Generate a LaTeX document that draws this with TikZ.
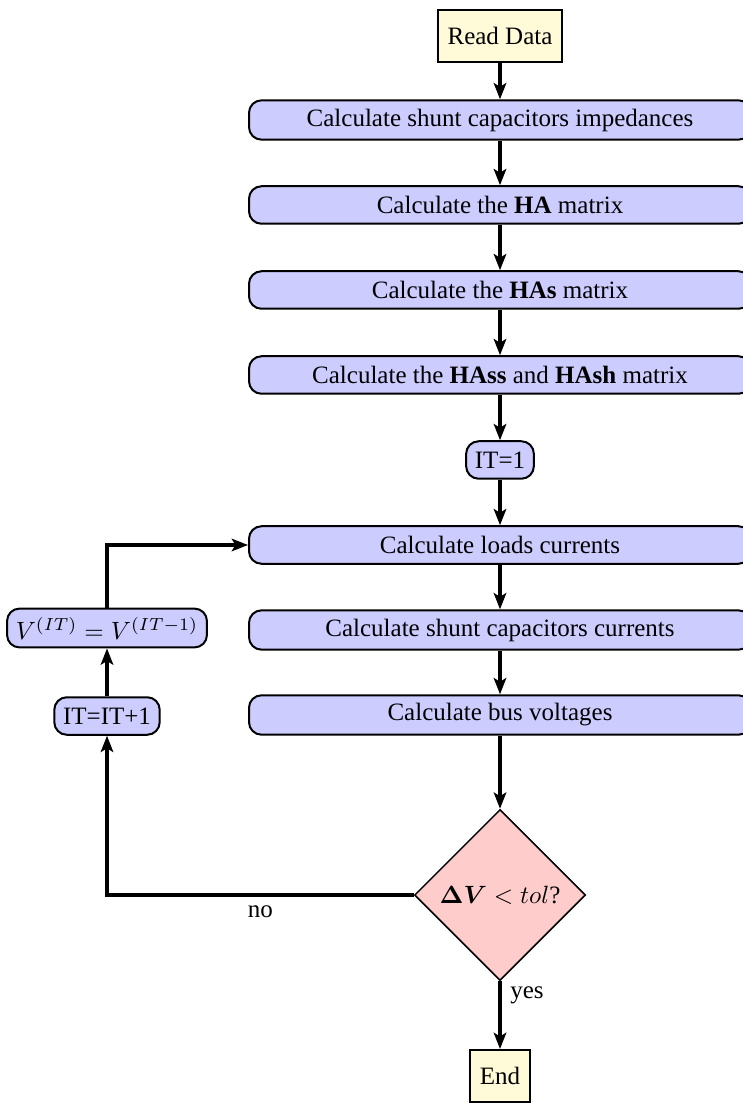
\documentclass[tikz,border=0pt]{standalone}
\usepackage{amsmath}
\usepackage{fontspec}
\setmainfont{Liberation Serif}
\usetikzlibrary{shapes.geometric,arrows.meta}

\definecolor{procfill}{RGB}{204,204,255}
\definecolor{termfill}{RGB}{255,250,215}
\definecolor{decfill}{RGB}{255,204,204}

\tikzset{
  terminal/.style={draw, line width=0.8pt, fill=termfill, rectangle,
    minimum height=20.8pt, inner xsep=4pt},
  process/.style={draw, line width=0.8pt, fill=procfill, rectangle,
    rounded corners=5pt, minimum width=200.8pt, minimum height=15pt},
  smallproc/.style={draw, line width=0.8pt, fill=procfill, rectangle,
    rounded corners=5pt, minimum height=15pt, inner xsep=3.5pt},
  decision/.style={draw, line width=0.6pt, fill=decfill, diamond, aspect=1,
    inner sep=0pt, minimum size=68.4pt},
  flow/.style={line width=1.6pt, -{Stealth[length=6.5pt,width=5pt,inset=1.5pt]}},
}

\begin{document}
\begin{tikzpicture}[x=0.4pt, y=-0.4pt]
  \useasboundingbox (0,0) rectangle (742,1103);

  % main column
  \node[terminal] (read) at (500,36) {Read Data};
  \node[process] (imp)   at (500,120) {Calculate shunt capacitors impedances};
  \node[process] (ha)    at (500,205) {Calculate the \textbf{HA} matrix};
  \node[process] (has)   at (500,290) {Calculate the \textbf{HAs} matrix};
  \node[process] (hass)  at (500,375) {Calculate the \textbf{HAss} and \textbf{HAsh} matrix};
  \node[smallproc] (it1) at (500,460) {IT=1};
  \node[process] (loads) at (500,545) {Calculate loads currents};
  \node[process] (shcur) at (500,630) {Calculate shunt capacitors currents};
  \node[process] (bus)   at (500,715) {Calculate bus voltages};
  \node[decision] (dec)  at (500,895) {$\boldsymbol{\Delta V} < tol$?};
  \node[terminal] (fin)  at (500,1076) {End};

  % iteration branch
  \node[smallproc] (vupd)  at (107,628) {$V^{(IT)} = V^{(IT-1)}$};
  \node[smallproc] (itinc) at (107,716) {IT=IT+1};

  % connectors
  \draw[flow] (read) -- (imp);
  \draw[flow] (imp) -- (ha);
  \draw[flow] (ha) -- (has);
  \draw[flow] (has) -- (hass);
  \draw[flow] (hass) -- (it1);
  \draw[flow] (it1) -- (loads);
  \draw[flow] (loads) -- (shcur);
  \draw[flow] (shcur) -- (bus);
  \draw[flow] (bus) -- (dec);
  \draw[flow] (dec.south) -- node[pos=0.2, right] {yes} (fin.north);
  \draw[flow] (dec.west) -- node[below] {no} (dec.west -| itinc.south) -- (itinc.south);
  \draw[flow] (itinc) -- (vupd);
  \draw[flow] (vupd.north) |- (loads.west);
\end{tikzpicture}
\end{document}
